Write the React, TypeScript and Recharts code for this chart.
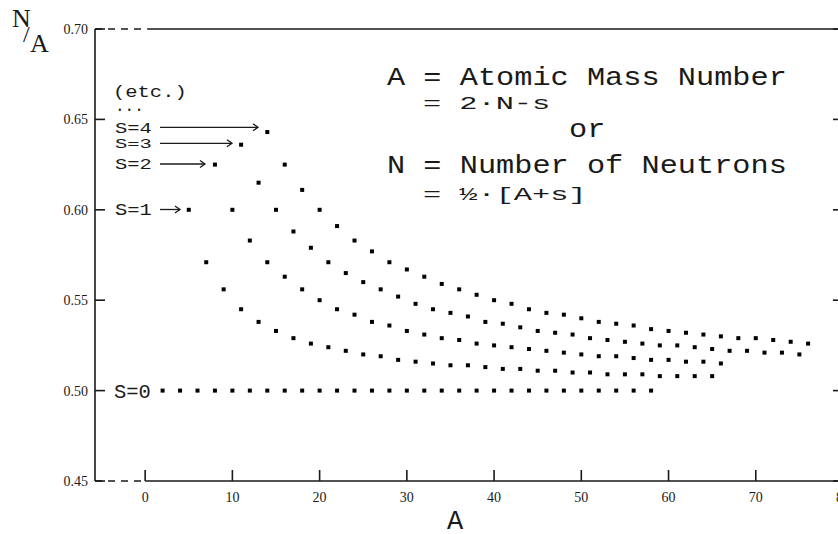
import React from "react";
import { ScatterChart, Scatter, XAxis, YAxis, ReferenceLine } from "recharts";

// ---- data ----
const s0A = [2, 4, 6, 8, 10, 12, 14, 16, 18, 20, 22, 24, 26, 28, 30, 32, 34, 36, 38, 40, 42, 44, 46, 48, 50, 52, 54, 56, 58];
const s0NA = [0.5, 0.5, 0.5, 0.5, 0.5, 0.5, 0.5, 0.5, 0.5, 0.5, 0.5, 0.5, 0.5, 0.5, 0.5, 0.5, 0.5, 0.5, 0.5, 0.5, 0.5, 0.5, 0.5, 0.5, 0.5, 0.5, 0.5, 0.5, 0.5];

const s1A = [5, 7, 9, 11, 13, 15, 17, 19, 21, 23, 25, 27, 29, 31, 33, 35, 37, 39, 41, 43, 45, 47, 49, 51, 53, 55, 57, 59, 61, 63, 65];
const s1NA = [0.6, 0.571, 0.556, 0.545, 0.538, 0.533, 0.529, 0.526, 0.524, 0.522, 0.52, 0.519, 0.517, 0.516, 0.515, 0.514, 0.514, 0.513, 0.512, 0.512, 0.511, 0.511, 0.51, 0.51, 0.509, 0.509, 0.509, 0.508, 0.508, 0.508, 0.508];

const s2A = [8, 10, 12, 14, 16, 18, 20, 22, 24, 26, 28, 30, 32, 34, 36, 38, 40, 42, 44, 46, 48, 50, 52, 54, 56, 58, 60, 62, 64, 66];
const s2NA = [0.625, 0.6, 0.583, 0.571, 0.563, 0.556, 0.55, 0.545, 0.542, 0.538, 0.536, 0.533, 0.531, 0.529, 0.528, 0.526, 0.525, 0.524, 0.523, 0.522, 0.521, 0.52, 0.519, 0.519, 0.518, 0.517, 0.517, 0.516, 0.516, 0.515];

const s3A = [11, 13, 15, 17, 19, 21, 23, 25, 27, 29, 31, 33, 35, 37, 39, 41, 43, 45, 47, 49, 51, 53, 55, 57, 59, 61, 63, 65, 67, 69, 71, 73, 75];
const s3NA = [0.636, 0.615, 0.6, 0.588, 0.579, 0.571, 0.565, 0.56, 0.556, 0.552, 0.548, 0.545, 0.543, 0.541, 0.538, 0.537, 0.535, 0.533, 0.532, 0.531, 0.529, 0.528, 0.527, 0.526, 0.525, 0.525, 0.524, 0.523, 0.522, 0.522, 0.521, 0.521, 0.52];

const s4A = [14, 16, 18, 20, 22, 24, 26, 28, 30, 32, 34, 36, 38, 40, 42, 44, 46, 48, 50, 52, 54, 56, 58, 60, 62, 64, 66, 68, 70, 72, 74, 76];
const s4NA = [0.643, 0.625, 0.611, 0.6, 0.591, 0.583, 0.577, 0.571, 0.567, 0.563, 0.559, 0.556, 0.553, 0.55, 0.548, 0.545, 0.543, 0.542, 0.54, 0.538, 0.537, 0.536, 0.534, 0.533, 0.532, 0.531, 0.53, 0.529, 0.529, 0.528, 0.527, 0.526];

const xTicksBottom = [0, 10, 20, 30, 40, 50, 60, 70, 80];
const xTicksTop = [10, 20, 30, 40, 50, 60, 70, 80];
const yTicks = [0.45, 0.5, 0.55, 0.6, 0.65, 0.7];
const xDomain: [number, number] = [-5.75, 80];
const yDomain: [number, number] = [0.45, 0.7];

const toPts = (a: number[], v: number[]) => a.map((x, i) => ({ A: x, NA: v[i] }));
const series = [toPts(s0A, s0NA), toPts(s1A, s1NA), toPts(s2A, s2NA), toPts(s3A, s3NA), toPts(s4A, s4NA)];

const INK = "#1a1a1a";
const SERIF = "'Liberation Serif', 'DejaVu Serif', serif";
const MONO = "'Liberation Mono', 'DejaVu Sans Mono', monospace";

const Dot = (p: any) => <rect x={p.cx - 2} y={p.cy - 2} width={4} height={4} fill="#000" />;

const LeftTick = (p: any) => (
  <g>
    <line x1={p.x} y1={p.y} x2={p.x + 10} y2={p.y} stroke={INK} strokeWidth={1.6} />
    <text x={p.x - 7} y={p.y + 5} textAnchor="end" fontFamily={SERIF} fontSize={14} fill={INK}>
      {Number(p.payload.value).toFixed(2)}
    </text>
  </g>
);
const RightTick = (p: any) => (
  <line x1={p.x - 10} y1={p.y} x2={p.x} y2={p.y} stroke={INK} strokeWidth={1.6} />
);
const BottomTick = (p: any) => (
  <g>
    <line x1={p.x} y1={p.y} x2={p.x} y2={p.y - 11} stroke={INK} strokeWidth={1.6} />
    <text x={p.x} y={p.y + 21} textAnchor="middle" fontFamily={SERIF} fontSize={14} fill={INK}>
      {p.payload.value}
    </text>
  </g>
);
const TopTick = (p: any) => (
  <line x1={p.x} y1={p.y} x2={p.x} y2={p.y + 10} stroke={INK} strokeWidth={1.6} />
);

const MT = ({ x, y, sy = 1, size, children, family = MONO }: any) => (
  <text
    transform={`translate(${x},${y}) scale(1,${sy})`}
    fontFamily={family}
    fontSize={size}
    fill={INK}
    style={{ whiteSpace: "pre" }}
  >
    {children}
  </text>
);

const Arrow = ({ x1, x2, y }: any) => (
  <g stroke={INK} strokeWidth={1.3} fill="none">
    <line x1={x1} y1={y} x2={x2} y2={y} />
    <polyline points={`${x2 - 5},${y - 3.5} ${x2},${y} ${x2 - 5},${y + 3.5}`} />
  </g>
);

export default function App() {
  return (
    <div style={{ position: "absolute", left: 0, top: 0, width: 838, height: 534, overflow: "hidden", background: "#fff" }}>
      <ScatterChart width={853} height={534} margin={{ top: 0, right: 0, bottom: 0, left: 0 }}>
        <XAxis
          xAxisId="bottom"
          dataKey="A"
          type="number"
          domain={xDomain}
          allowDataOverflow
          ticks={xTicksBottom}
          orientation="bottom"
          height={53}
          axisLine={false}
          tickLine={false}
          tickSize={0}
          tickMargin={0}
          tick={BottomTick}
          interval={0}
        />
        <XAxis
          xAxisId="top"
          type="number"
          domain={xDomain}
          allowDataOverflow
          ticks={xTicksTop}
          orientation="top"
          height={29}
          axisLine={false}
          tickLine={false}
          tickSize={0}
          tickMargin={0}
          tick={TopTick}
          interval={0}
        />
        <YAxis
          yAxisId="left"
          dataKey="NA"
          type="number"
          domain={yDomain}
          allowDataOverflow
          ticks={yTicks}
          width={95}
          axisLine={{ stroke: INK, strokeWidth: 1.6 }}
          tickLine={false}
          tickSize={0}
          tickMargin={0}
          tick={LeftTick}
          interval={0}
        />
        <YAxis
          yAxisId="right"
          type="number"
          orientation="right"
          domain={yDomain}
          allowDataOverflow
          ticks={yTicks}
          width={10}
          axisLine={{ stroke: INK, strokeWidth: 1.6 }}
          tickLine={false}
          tickSize={0}
          tickMargin={0}
          tick={RightTick}
          interval={0}
        />
        <ReferenceLine xAxisId="bottom" yAxisId="left" ifOverflow="visible" segment={[{ x: -5.75, y: 0.45 }, { x: 0, y: 0.45 }]} stroke={INK} strokeWidth={1.6} strokeDasharray="7 6" />
        <ReferenceLine xAxisId="bottom" yAxisId="left" ifOverflow="visible" segment={[{ x: 0, y: 0.45 }, { x: 80, y: 0.45 }]} stroke={INK} strokeWidth={1.6} />
        <ReferenceLine xAxisId="bottom" yAxisId="left" ifOverflow="visible" segment={[{ x: -5.75, y: 0.7 }, { x: 0.3, y: 0.7 }]} stroke={INK} strokeWidth={1.6} strokeDasharray="7 6" />
        <ReferenceLine xAxisId="bottom" yAxisId="left" ifOverflow="visible" segment={[{ x: 0.3, y: 0.7 }, { x: 80, y: 0.7 }]} stroke={INK} strokeWidth={1.6} />
        {series.map((d, i) => (
          <Scatter key={i} xAxisId="bottom" yAxisId="left" data={d} dataKey="NA" shape={Dot} isAnimationActive={false} />
        ))}
      </ScatterChart>
      <svg width={838} height={534} style={{ position: "absolute", left: 0, top: 0, pointerEvents: "none" }}>
        {/* y-axis title N/A */}
        <MT x={12} y={27} size={26} family={SERIF}>N</MT>
        <MT x={23} y={42} size={24} family={SERIF}>/</MT>
        <MT x={30} y={52} size={26} family={SERIF}>A</MT>
        {/* x-axis title */}
        <MT x={447} y={529} size={27}>A</MT>
        {/* left annotations */}
        <MT x={113} y={97} sy={0.8} size={20.5}>(etc.)</MT>
        <MT x={115} y={111} size={16}>...</MT>
        <MT x={115} y={132.5} sy={0.75} size={20.5}>S=4</MT>
        <MT x={115} y={147.5} sy={0.66} size={20.5}>S=3</MT>
        <MT x={115} y={169} sy={0.72} size={20.5}>S=2</MT>
        <MT x={115} y={215} sy={0.8} size={20.5}>S=1</MT>
        <MT x={114} y={398} sy={0.98} size={20.5}>S=0</MT>
        <Arrow x1={160} x2={258} y={127.3} />
        <Arrow x1={160} x2={232} y={143.3} />
        <Arrow x1={160} x2={205} y={164} />
        <Arrow x1={160} x2={180} y={209.5} />
        {/* right legend */}
        <MT x={387} y={85} sy={0.85} size={30.3}>A = Atomic Mass Number</MT>
        <MT x={423} y={109} sy={0.6} size={30.3}>= 2·N-s</MT>
        <MT x={569} y={137} sy={0.85} size={30.3}>or</MT>
        <MT x={387} y={173} sy={0.85} size={30.3}>N = Number of Neutrons</MT>
        <MT x={423} y={200} sy={0.6} size={30.3}>= ½·[A+s]</MT>
      </svg>
    </div>
  );
}
